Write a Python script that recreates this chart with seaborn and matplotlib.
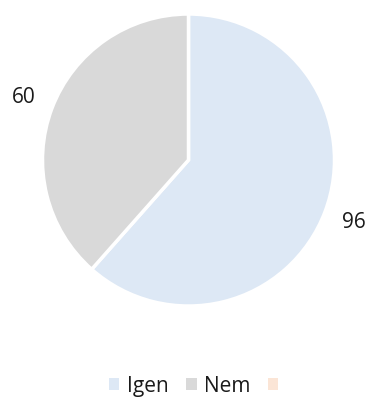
import seaborn as sns
import matplotlib.pyplot as plt
from matplotlib.patches import Patch

# data
categories = ["Igen", "Nem"]
values = [96, 60]
legend_labels = ["Igen", "Nem", " "]
colors = ["#DDE8F5", "#D9D9D9", "#FBE5D6"]

sns.set_theme(style="white")
plt.rcParams["font.family"] = ["Open Sans", "DejaVu Sans"]

fig = plt.figure(figsize=(3.71, 3.98), dpi=100)
ax = fig.add_axes([0, 0, 1, 1])

total = sum(values)
ax.pie(values, colors=colors[:len(values)], startangle=90, counterclock=False,
       autopct=lambda p: f"{round(p * total / 100)}", pctdistance=1.21,
       wedgeprops={"edgecolor": "white", "linewidth": 2.5},
       textprops={"fontsize": 15, "color": "#1a1a1a"})

ax.set_xlim(-1.291, 1.250)
ax.set_ylim(-1.630, 1.096)
ax.axis("off")

# legend
handles = [Patch(facecolor=c, edgecolor="none") for c in colors]
fig.legend(handles, legend_labels, loc="center", bbox_to_anchor=(0.539, 0.03),
           ncol=3, frameon=False, fontsize=15, handlelength=0.5,
           handleheight=0.5, handletextpad=0.35, columnspacing=0.85,
           labelcolor="#1a1a1a")

fig.savefig("out.png", dpi=100)
